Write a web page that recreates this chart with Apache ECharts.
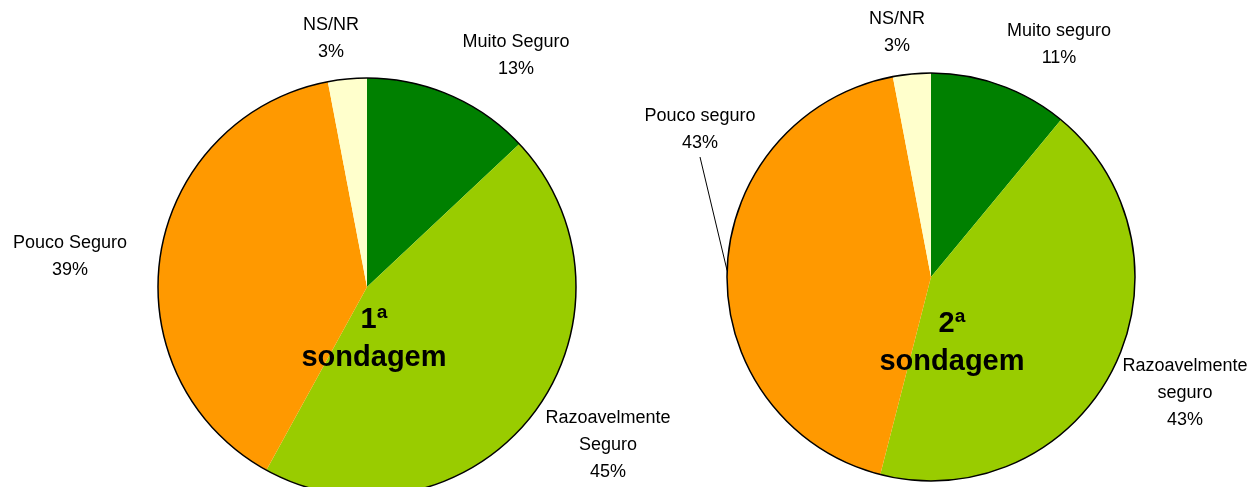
<!DOCTYPE html>
<html>
<head>
<meta charset="utf-8">
<script src="https://cdn.jsdelivr.net/npm/echarts@6/dist/echarts.min.js"></script>
<style>
  html, body { margin: 0; padding: 0; background: #fff; }
  #main { width: 1250px; height: 487px; }
</style>
</head>
<body>
<div id="main"></div>
<script>
// categorias (ordem no sentido horario a partir do topo)
var cats1 = ['Muito Seguro', 'Razoavelmente\nSeguro', 'Pouco Seguro', 'NS/NR'];
var cats2 = ['Muito seguro', 'Razoavelmente\nseguro', 'Pouco seguro', 'NS/NR'];
var vals1 = [13, 45, 39, 3];
var vals2 = [11, 43, 43, 3];
var titles = ['1ª\nsondagem', '2ª\nsondagem'];
var colors = ['#008000', '#99CC00', '#FF9900', '#FFFFCC'];

// posicao dos rotulos (centro do bloco de texto)
var labelPos = [
  [[516, 56], [608, 445], [70, 257], [331, 39]],
  [[1059, 45], [1185, 393], [700, 130], [897, 33]]
];

var font = "'Liberation Sans', Arial, sans-serif";

function makeData(cats, vals, lineIdx) {
  var arr = [];
  for (var i = 0; i < cats.length; i++) {
    var obj = { name: cats[i], value: vals[i] };
    if (i === lineIdx) {
      obj.labelLine = { show: true };
    }
    arr.push(obj);
  }
  return arr;
}

function pieSeries(idx, center, radius, data) {
  return {
    type: 'pie',
    center: center,
    radius: radius,
    startAngle: 90,
    clockwise: true,
    silent: true,
    animation: false,
    color: colors,
    itemStyle: { borderWidth: 0 },
    label: {
      show: true,
      position: 'outside',
      formatter: '{b}\n{d}%',
      fontFamily: font,
      fontSize: 18,
      lineHeight: 27,
      color: '#000',
      align: 'center',
      overflow: 'none'
    },
    labelLine: {
      show: false,
      length: 10,
      length2: 0,
      smooth: false,
      lineStyle: { color: '#000', width: 1 }
    },
    labelLayout: function (params) {
      var p = labelPos[idx][params.dataIndex];
      return {
        x: p[0],
        y: p[1],
        align: 'center',
        verticalAlign: 'middle'
      };
    },
    data: data
  };
}

// contorno preto externo
function rimSeries(center, radius) {
  return {
    type: 'pie',
    center: center,
    radius: radius,
    silent: true,
    animation: false,
    z: 5,
    label: { show: false },
    labelLine: { show: false },
    itemStyle: { color: 'rgba(0,0,0,0)', borderColor: '#000', borderWidth: 1.5 },
    data: [{ value: 1 }]
  };
}

var c1 = [367, 287], r1 = 209;
var c2 = [931, 277], r2 = 204;

var option = {
  backgroundColor: '#fff',
  title: [
    {
      text: titles[0],
      left: 369,
      top: 296,
      textAlign: 'center',
      textStyle: { fontFamily: font, fontSize: 29, fontWeight: 'bold', lineHeight: 38, color: '#000' }
    },
    {
      text: titles[1],
      left: 947,
      top: 300,
      textAlign: 'center',
      textStyle: { fontFamily: font, fontSize: 29, fontWeight: 'bold', lineHeight: 38, color: '#000' }
    }
  ],
  series: [
    pieSeries(0, c1, r1, makeData(cats1, vals1, -1)),
    pieSeries(1, c2, r2, makeData(cats2, vals2, 2)),
    rimSeries(c1, r1),
    rimSeries(c2, r2)
  ]
};

var chart = echarts.init(document.getElementById('main'), null, { renderer: 'canvas' });
chart.setOption(option);
</script>
</body>
</html>
